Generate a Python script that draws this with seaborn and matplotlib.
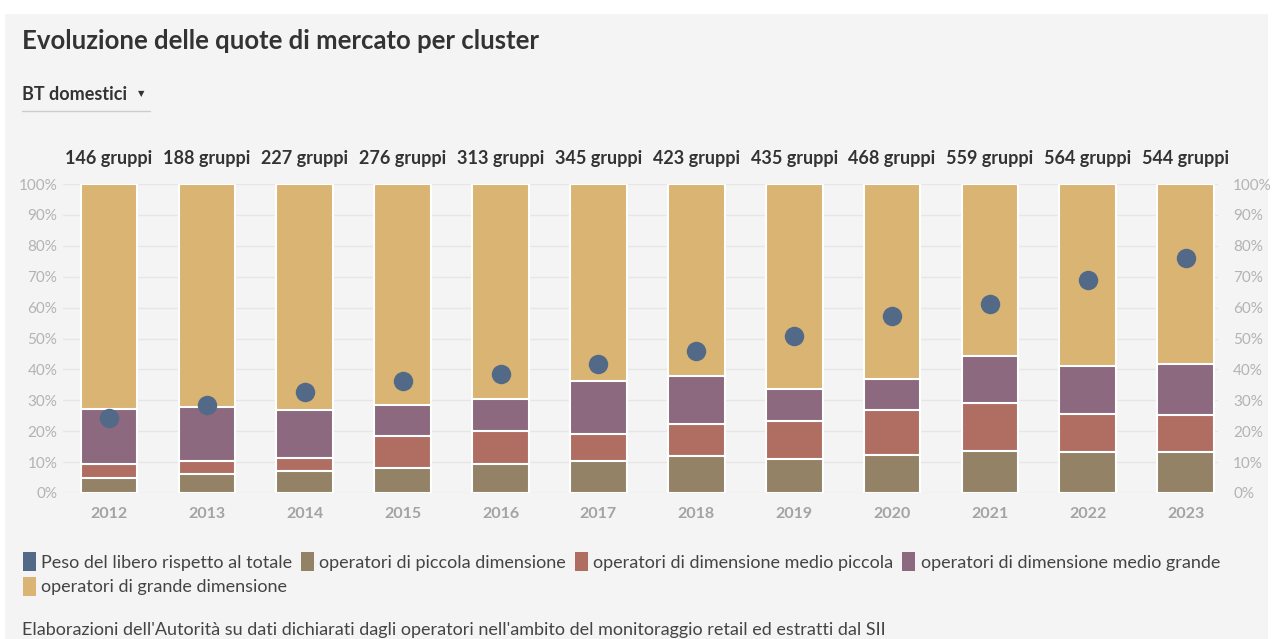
import numpy as np
import pandas as pd
import matplotlib.pyplot as plt
import seaborn as sns
from matplotlib.patches import Patch, Rectangle
from matplotlib.lines import Line2D

# ── DATA ────────────────────────────────────────────────────
years = ["2012", "2013", "2014", "2015", "2016", "2017",
         "2018", "2019", "2020", "2021", "2022", "2023"]
gruppi = [146, 188, 227, 276, 313, 345, 423, 435, 468, 559, 564, 544]
piccola = [5.0, 6.2, 7.0, 8.2, 9.5, 10.3, 12.1, 11.1, 12.4, 13.5, 13.3, 13.3]
medio_piccola = [4.3, 4.1, 4.4, 10.2, 10.5, 8.7, 10.2, 12.1, 14.3, 15.6, 12.3, 12.1]
medio_grande = [18.0, 17.5, 15.3, 10.2, 10.3, 17.2, 15.6, 10.5, 10.2, 15.1, 15.5, 16.4]
grande = [72.7, 72.2, 73.3, 71.4, 69.7, 63.8, 62.1, 66.3, 63.1, 55.8, 58.9, 58.2]
libero = [24.2, 28.6, 32.7, 36.1, 38.4, 41.7, 45.9, 50.8, 57.3, 61.2, 69.0, 75.9]

series_names = ["operatori di piccola dimensione",
                "operatori di dimensione medio piccola",
                "operatori di dimensione medio grande",
                "operatori di grande dimensione"]
dot_name = "Peso del libero rispetto al totale"

# ── STYLE ───────────────────────────────────────────────────
sns.set_theme(style="white")
plt.rcParams["font.family"] = ["Lato", "DejaVu Sans"]

BG = "#f4f4f4"
COLORS = ["#938266", "#b06e63", "#8c697e", "#d9b472"]
DOT = "#526a87"
TXT = "#333333"
TICK = "#b3b3b3"

df = pd.DataFrame({"year": years, "piccola": piccola, "mp": medio_piccola,
                   "mg": medio_grande, "grande": grande, "libero": libero})
layers = ["piccola", "mp", "mg", "grande"]
cum = df[layers].cumsum(axis=1)

fig = plt.figure(figsize=(12.74, 6.39), dpi=100)
fig.patch.set_facecolor("white")
fig.patches.append(Rectangle((5 / 1274, 0), 1263 / 1274, 1 - 14 / 639,
                             transform=fig.transFigure, facecolor=BG,
                             edgecolor="none", zorder=-10))

ax = fig.add_axes([63 / 1274, 1 - 493 / 639, (1218 - 63) / 1274, (493 - 184) / 639])
ax.set_facecolor("none")

# stacked bars: draw cumulative totals from the top layer down
for col, color in zip(layers[::-1], COLORS[::-1]):
    sns.barplot(x=df["year"], y=cum[col], color=color, width=0.58,
                edgecolor="white", linewidth=1.5, saturation=1, ax=ax, zorder=2)

sns.stripplot(x=df["year"], y=df["libero"], jitter=False, size=14,
              color=DOT, linewidth=0, ax=ax, zorder=5)

ax.set_xlim(-0.47, 11.33)
ax.set_ylim(0, 100)
ax.set_xlabel("")
ax.set_ylabel("")
for s in ax.spines.values():
    s.set_visible(False)
yt = np.arange(0, 101, 10)
ax.set_yticks(yt)
ax.set_yticklabels([f"{v}%" for v in yt], fontsize=11, color=TICK)
ax.tick_params(axis="y", length=0, pad=4)
ax.tick_params(axis="x", length=5, color="#dddddd", pad=5)
for lbl in ax.get_xticklabels():
    lbl.set_fontsize(11.5)
    lbl.set_fontweight("bold")
    lbl.set_color("#a3a3a3")
ax.yaxis.grid(True, color="#e6e6e6", linewidth=1, zorder=0)
ax.set_axisbelow(True)

ax2 = ax.twinx()
ax2.set_ylim(0, 100)
ax2.set_yticks(yt)
ax2.set_yticklabels([f"{v}%" for v in yt], fontsize=11, color=TICK)
ax2.tick_params(axis="y", length=0, pad=11)
for s in ax2.spines.values():
    s.set_visible(False)

# group counts above bars
for i, g in enumerate(gruppi):
    ax.text(i, 108.4, f"{g} gruppi", ha="center", va="center",
            fontsize=13, fontweight="bold", color=TXT, clip_on=False)

# title and dropdown
fig.text(22 / 1274, 1 - 41 / 639, "Evoluzione delle quote di mercato per cluster",
         fontsize=18.5, fontweight="bold", color=TXT, va="center")
fig.text(22 / 1274, 1 - 95 / 639, "BT domestici", fontsize=13, fontweight="bold",
         color=TXT, va="center")
fig.text(138 / 1274, 1 - 94 / 639, "▼", fontsize=6, color=TXT, va="center",
         family="DejaVu Sans")
fig.add_artist(Line2D([22 / 1274, 150 / 1274], [1 - 111 / 639, 1 - 111 / 639],
                      color="#cccccc", linewidth=1, transform=fig.transFigure))

# legend (column-major fill, so reorder)
h_dot = Patch(facecolor=DOT, edgecolor="none", label=dot_name)
h_bars = [Patch(facecolor=c, edgecolor="none", label=n) for c, n in zip(COLORS, series_names)]
handles = [h_dot, h_bars[3], h_bars[0], h_bars[1], h_bars[2]]
fig.legend(handles=handles, loc="upper left", bbox_to_anchor=(16 / 1274, 1 - 545 / 639),
           ncol=4, frameon=False, fontsize=13, handlelength=0.7, handleheight=1.25,
           handletextpad=0.3, columnspacing=0.5, labelspacing=0.3,
           borderaxespad=0, labelcolor="#444444")

fig.text(22 / 1274, 1 - 630 / 639,
         "Elaborazioni dell'Autorità su dati dichiarati dagli operatori nell'ambito del monitoraggio retail ed estratti dal SII",
         fontsize=13, color="#444444", va="center")

fig.savefig("out.png", dpi=100, facecolor=fig.get_facecolor())
